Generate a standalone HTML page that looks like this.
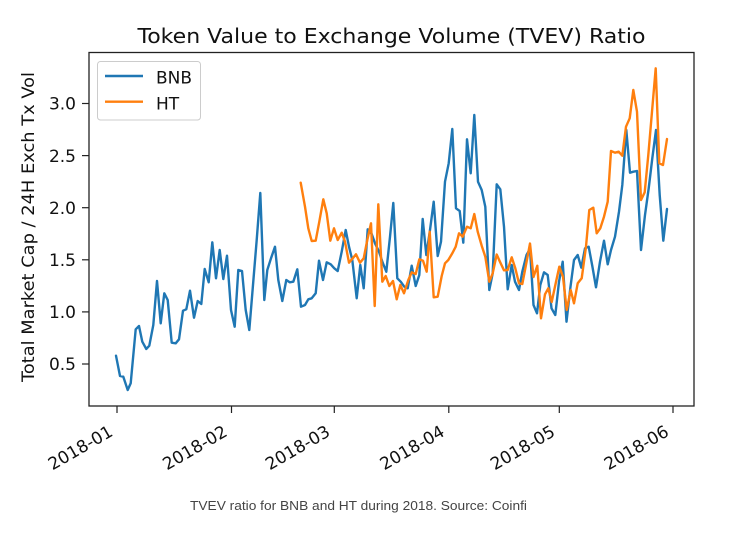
<!DOCTYPE html>
<html><head><meta charset="utf-8"><style>
html,body{margin:0;padding:0;background:#fff;}
svg{display:block;}
</style></head><body>
<svg width="731" height="538" viewBox="0 0 731 538" xmlns="http://www.w3.org/2000/svg">
<rect x="0" y="0" width="731" height="538" fill="#fff"/>
<text x="391.5" y="43" font-family="DejaVu Sans, Liberation Sans, sans-serif" font-size="20" text-anchor="middle" fill="#111" textLength="508" lengthAdjust="spacingAndGlyphs">Token Value to Exchange Volume (TVEV) Ratio</text>

<!-- series -->
<polyline fill="none" stroke="#1f77b4" stroke-width="2.4" stroke-linejoin="round" stroke-linecap="round" points="116,355.7 120,376 123.3,376.7 127.7,390 130.7,383.3 135.7,329.3 139,326 142.3,341.7 146.3,349 149.3,345.7 153.3,325 157,281 160.7,323.3 164.3,293.3 167.7,300 171.7,342.7 175.7,343.3 179,339.3 183,310.7 186.3,309.3 190,290.7 194,317.7 197.7,301 201.3,304 204.7,269 208.7,282.3 212.3,242.3 216,278.3 219.7,250 223.3,279 227,255.7 231,310 234.7,326.7 238.3,270 242,271 245.7,310 249.3,330 253,285 256.7,240 260.3,193 264.3,300 267.3,270 271,258.3 275,246.7 278.3,280 282.3,301 286.3,280 289.7,282.3 293.3,281.7 297.3,269.3 301,306.7 305,305 308.3,299.3 311.7,298.3 315.7,293.3 319,260.7 323,280 326.7,262.3 330.7,264.3 334.3,268.3 337.7,271 341.7,251.7 345.7,230 349,246.7 352.3,260 356.7,298.3 360.3,265 363.7,288.3 367.7,229.3 371.7,234 375,243.3 379,251.7 382.7,262.7 386.3,271.7 390,236.7 393.3,203 397.3,278.3 400.7,281.7 404.3,286.7 407.7,288.3 411.7,265.7 415.7,286 419.3,275 422.7,219 426.3,255 430,230 433.7,201.7 437.7,256 441,241.7 445,181.7 448.7,163.3 452.3,129 456,208.3 459.7,211 463.3,242.7 467,139.3 470.7,173.3 474.3,115 478,181.7 481.7,190 485.3,206.7 489.3,290 492.7,273.3 496.7,184.3 500.3,189.3 504,226.7 507.7,289.3 511.7,265 515,281.7 519,290 522.3,271.7 526.5,255 530,249 533.5,305 537,313.3 540.3,285 544,272.3 547.7,275 551.5,308.3 555.3,315 559,281.7 562.7,261.7 566.5,321.7 570.3,288.3 574,260 577.7,255 581.3,267.7 585,248.3 588.7,246.7 592.3,266 596,287.3 600,261.7 604,240.7 607.7,264.3 611,250 615,236.7 619,211.7 622.3,185 626.3,130 630,172.7 633.3,171.7 637,171 641,250 645,215 648.7,188.3 652.3,158.3 656,130 659.7,195 663.3,240.7 667,209"/>
<polyline fill="none" stroke="#ff7f0e" stroke-width="2.4" stroke-linejoin="round" stroke-linecap="round" points="300.7,182.7 305,206.7 308.3,228.3 311.7,241 315.7,240.7 319.3,221.7 323.3,199.3 326.7,213.3 330.3,240.7 334,228.3 337.7,240 341.7,232.7 345,241.7 349,262.7 352.7,258.3 356,254.3 360,262.7 363.7,258.3 367.3,240 371,223.3 374.7,306 378.3,204.3 382.3,281.7 385.7,276 389.3,286 393,281 396.7,299.3 400.3,285 404,293.3 408.3,280 411.7,272.3 415.7,274 419.3,259.3 423,260.7 426.7,271.7 429.7,231.7 433.7,297.3 437.7,296.7 441.7,276 445,263.3 448.3,260 452.3,253.3 455.7,246.7 459,233.3 462.7,236.7 467,226.7 470.7,228.3 474.3,214 477.7,231.7 481.7,245.7 485.3,256.7 489.3,281.7 492.7,273.3 496.7,254.5 500.3,262.5 504,270.3 507.7,270 511.7,257.3 515.3,268.3 519,283.3 522.3,284 526.3,263.3 530,243.5 533.5,277 537.3,265.7 541,318.3 545,294.3 548.3,288.3 551.7,302 555.7,283.3 559.3,266.7 563,276.7 566.7,310 570.7,290 574,303.3 577.7,283.3 581.7,278.3 586,246.7 589.3,210 593.3,207.7 596.7,233.3 600.3,228.3 604,216.7 607.7,201.7 611,151 615,152.7 618.7,151.7 622.3,155.7 626,126.7 629.7,118.3 633.3,90 637,111.7 641,200 644.7,192.3 648.3,155 652,111.7 655.7,68.3 659.3,163.3 663,165 667,139"/>

<!-- axes frame -->
<rect x="89" y="52.5" width="605" height="353.5" fill="none" stroke="#222" stroke-width="1.3"/>

<!-- y ticks -->
<g stroke="#222" stroke-width="1.2">
<line x1="82" y1="103.5" x2="89" y2="103.5"/>
<line x1="82" y1="155.6" x2="89" y2="155.6"/>
<line x1="82" y1="207.7" x2="89" y2="207.7"/>
<line x1="82" y1="259.8" x2="89" y2="259.8"/>
<line x1="82" y1="311.9" x2="89" y2="311.9"/>
<line x1="82" y1="364" x2="89" y2="364"/>
</g>
<g font-family="DejaVu Sans, Liberation Sans, sans-serif" font-size="17" fill="#111" text-anchor="end">
<text x="76" y="109.7">3.0</text>
<text x="76" y="161.8">2.5</text>
<text x="76" y="213.9">2.0</text>
<text x="76" y="266">1.5</text>
<text x="76" y="318.1">1.0</text>
<text x="76" y="370.2">0.5</text>
</g>

<!-- x ticks -->
<g stroke="#222" stroke-width="1.2">
<line x1="117" y1="406" x2="117" y2="413"/>
<line x1="231.5" y1="406" x2="231.5" y2="413"/>
<line x1="334.3" y1="406" x2="334.3" y2="413"/>
<line x1="448.8" y1="406" x2="448.8" y2="413"/>
<line x1="559.3" y1="406" x2="559.3" y2="413"/>
<line x1="673" y1="406" x2="673" y2="413"/>
</g>
<g font-family="DejaVu Sans, Liberation Sans, sans-serif" font-size="17" fill="#111" text-anchor="end">
<text transform="translate(114,435) rotate(-30)">2018-01</text>
<text transform="translate(228.5,435) rotate(-30)">2018-02</text>
<text transform="translate(331.3,435) rotate(-30)">2018-03</text>
<text transform="translate(445.8,435) rotate(-30)">2018-04</text>
<text transform="translate(556.3,435) rotate(-30)">2018-05</text>
<text transform="translate(670,435) rotate(-30)">2018-06</text>
</g>

<!-- y label -->
<text transform="translate(34,227) rotate(-90)" font-family="DejaVu Sans, Liberation Sans, sans-serif" font-size="17" fill="#111" text-anchor="middle" textLength="310" lengthAdjust="spacingAndGlyphs">Total Market Cap / 24H Exch Tx Vol</text>

<!-- legend -->
<rect x="97.5" y="61.5" width="103" height="58.5" rx="3" ry="3" fill="#fff" fill-opacity="0.85" stroke="#cccccc" stroke-width="1"/>
<line x1="105" y1="76" x2="143" y2="76" stroke="#1f77b4" stroke-width="2.4"/>
<line x1="105" y1="101.7" x2="143" y2="101.7" stroke="#ff7f0e" stroke-width="2.4"/>
<g font-family="DejaVu Sans, Liberation Sans, sans-serif" font-size="17" fill="#111">
<text x="156" y="83.5">BNB</text>
<text x="156" y="109.5">HT</text>
</g>

<!-- caption -->
<text x="358.5" y="510" font-family="Liberation Sans, DejaVu Sans, sans-serif" font-size="13" fill="#444" text-anchor="middle" textLength="337" lengthAdjust="spacingAndGlyphs">TVEV ratio for BNB and HT during 2018. Source: Coinfi</text>
</svg>
</body></html>
